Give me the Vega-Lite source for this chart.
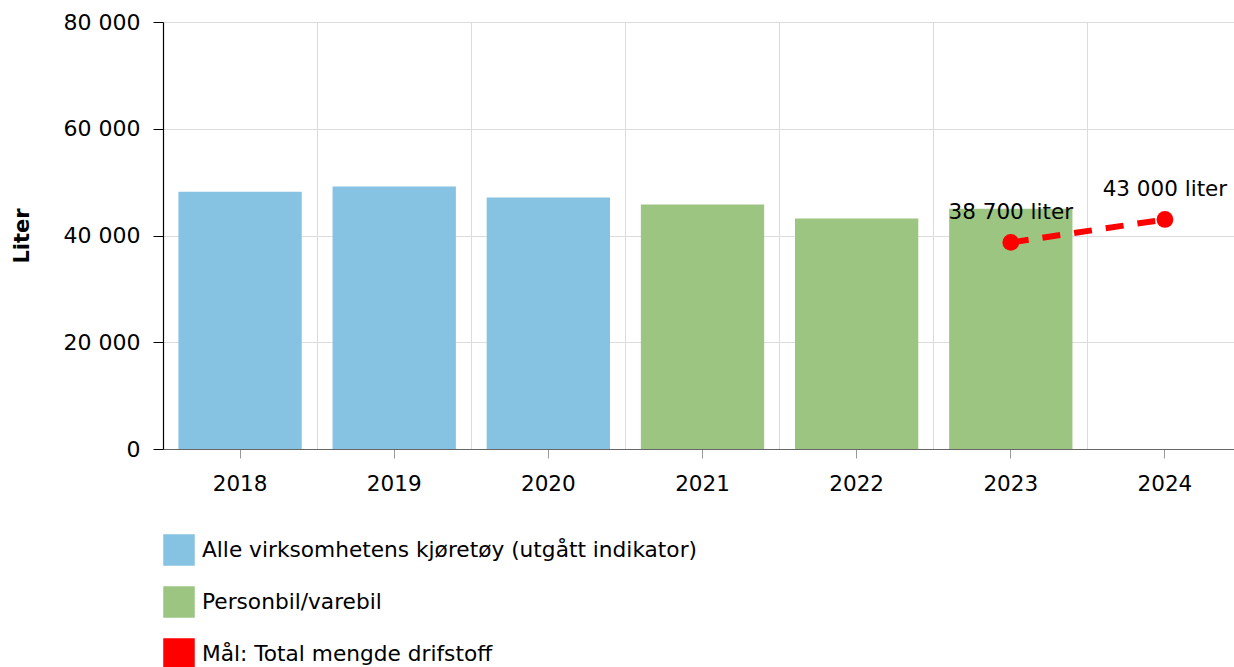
{
  "$schema": "https://vega.github.io/schema/vega-lite/v6.json",
  "width": 1071,
  "height": 427,
  "autosize": "none",
  "padding": {"left": 163, "top": 22, "right": 0, "bottom": 218},
  "config": {
    "font": "DejaVu Sans",
    "view": {"stroke": null},
    "legend": {"symbolStrokeWidth": 1.5}
  },
  "datasets": {
    "bars": [
      {"year": "2018", "value": 48200, "series": "Alle virksomhetens kjøretøy (utgått indikator)"},
      {"year": "2019", "value": 49200, "series": "Alle virksomhetens kjøretøy (utgått indikator)"},
      {"year": "2020", "value": 47100, "series": "Alle virksomhetens kjøretøy (utgått indikator)"},
      {"year": "2021", "value": 45800, "series": "Personbil/varebil"},
      {"year": "2022", "value": 43200, "series": "Personbil/varebil"},
      {"year": "2023", "value": 45000, "series": "Personbil/varebil"}
    ],
    "target": [
      {"year": "2023", "value": 38700, "series": "Mål: Total mengde drifstoff", "label": "38 700 liter"},
      {"year": "2024", "value": 43000, "series": "Mål: Total mengde drifstoff", "label": "43 000 liter"}
    ]
  },
  "layer": [
    {
      "data": {"name": "bars"},
      "mark": {"type": "bar", "width": {"band": 0.8}},
      "encoding": {
        "x": {
          "field": "year", "type": "nominal",
          "scale": {"domain": ["2018", "2019", "2020", "2021", "2022", "2023", "2024"], "range": [0, 1079], "paddingInner": 0, "paddingOuter": 0},
          "axis": {"title": null, "orient": "bottom", "grid": false, "labelAngle": 0, "labelFontSize": 21.5, "labelColor": "#000000", "tickColor": "#999999", "tickSize": 9, "labelPadding": 15, "domainColor": "#666666"}
        },
        "y": {
          "field": "value", "type": "quantitative",
          "scale": {"domain": [0, 80000]},
          "axis": {
            "title": "Liter", "titleFontSize": 21, "titleFontWeight": "bold", "titleColor": "#000000", "titlePadding": 31,
            "values": [0, 20000, 40000, 60000, 80000],
            "labelExpr": "replace(format(datum.value, ','), ',', ' ')",
            "labelFontSize": 22, "labelColor": "#000000", "labelPadding": 13,
            "tickSize": 10, "tickColor": "#000000", "domainColor": "#000000", "domainWidth": 1.2,
            "grid": true, "gridColor": "#dcdcdc"
          }
        },
        "color": {
          "field": "series", "type": "nominal",
          "scale": {"domain": ["Alle virksomhetens kjøretøy (utgått indikator)", "Personbil/varebil", "Mål: Total mengde drifstoff"], "range": ["#86c2e1", "#9dc582", "#ff0000"]},
          "legend": {"title": null, "orient": "none", "legendX": 0, "legendY": 512, "direction": "vertical", "symbolType": "square", "symbolSize": 900, "labelFontSize": 21.7, "labelColor": "#000000", "labelLimit": 0, "rowPadding": 16, "labelOffset": 7}
        }
      }
    },
    {
      "data": {"name": "target"},
      "mark": {"type": "line", "strokeWidth": 6, "strokeDash": [18, 14]},
      "encoding": {
        "x": {"field": "year", "type": "nominal", "axis": {"orient": "top", "grid": true, "bandPosition": 0, "labels": false, "ticks": false, "domain": false, "title": null, "gridColor": "#dcdcdc"}},
        "y": {"field": "value", "type": "quantitative"},
        "color": {"field": "series", "type": "nominal"}
      }
    },
    {
      "data": {"name": "target"},
      "mark": {"type": "point", "filled": true, "size": 280, "opacity": 1},
      "encoding": {
        "x": {"field": "year", "type": "nominal", "axis": null},
        "y": {"field": "value", "type": "quantitative"},
        "color": {"field": "series", "type": "nominal"}
      }
    },
    {
      "data": {"name": "target"},
      "mark": {"type": "text", "dy": -29, "fontSize": 21.5, "color": "#000000"},
      "encoding": {
        "x": {"field": "year", "type": "nominal", "axis": null},
        "y": {"field": "value", "type": "quantitative"},
        "text": {"field": "label"}
      }
    }
  ],
  "resolve": {"axis": {"x": "independent"}}
}
